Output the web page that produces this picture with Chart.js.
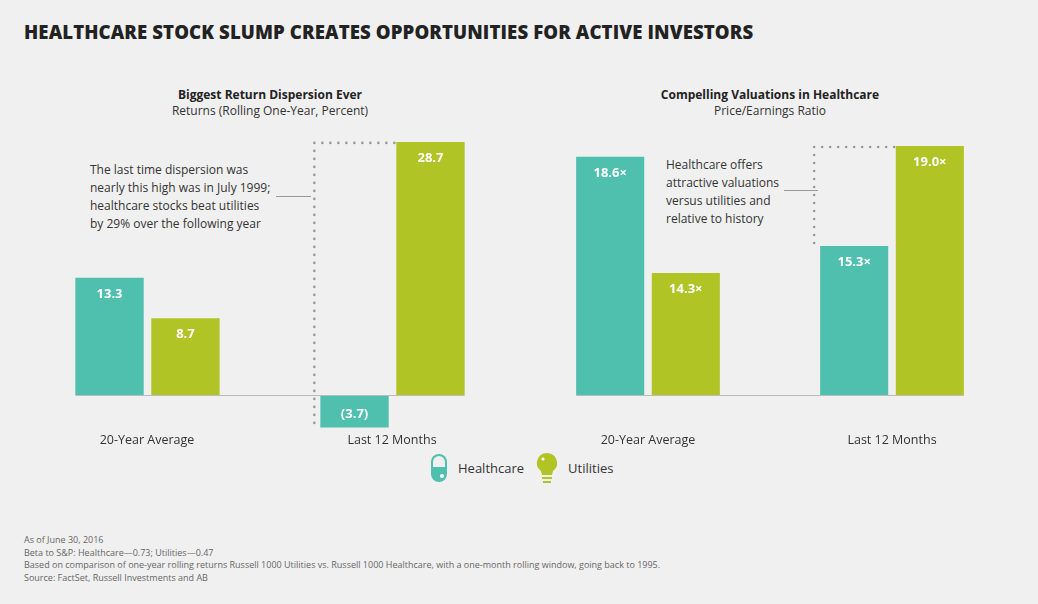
<!DOCTYPE html>
<html>
<head>
<meta charset="utf-8">
<script src="https://cdn.jsdelivr.net/npm/chart.js@4"></script>
<style>
  body { margin:0; background:#f0f0f0; font-family:"Open Sans", sans-serif; color:#333; }
  #wrap { position:relative; width:1038px; height:604px; overflow:hidden; }
  .abs { position:absolute; }
  h1 { position:absolute; left:24px; top:19px; margin:0; font-size:18.6px; font-weight:800; letter-spacing:0.1px; color:#222; }
  .st { text-align:center; font-size:12px; line-height:16px; }
  .st b { font-weight:700; color:#222; }
  .cat { font-size:12.5px; text-align:center; width:160px; }
  .note { font-size:12px; line-height:18px; color:#333; white-space:nowrap; }
  .foot { left:24px; top:534px; font-size:9px; line-height:12.5px; color:#666; }
  canvas { position:absolute; }
</style>
</head>
<body>
<div id="wrap">
  <h1>HEALTHCARE STOCK SLUMP CREATES OPPORTUNITIES FOR ACTIVE INVESTORS</h1>
  <div class="abs st" style="left:120px;top:87px;width:300px"><b>Biggest Return Dispersion Ever</b><br>Returns (Rolling One-Year, Percent)</div>
  <div class="abs st" style="left:620px;top:87px;width:300px"><b>Compelling Valuations in Healthcare</b><br>Price/Earnings Ratio</div>

  <div class="abs note" style="left:90px;top:161px">The last time dispersion was<br>nearly this high was in July 1999;<br>healthcare stocks beat utilities<br>by 29% over the following year</div>
  <div class="abs" style="left:276px;top:196px;width:35px;border-top:1px solid #999"></div>
  <div class="abs note" style="left:666px;top:156px">Healthcare offers<br>attractive valuations<br>versus utilities and<br>relative to history</div>
  <div class="abs" style="left:784px;top:190px;width:34px;border-top:1px solid #999"></div>

  <canvas id="left" width="490" height="350" style="left:25px;top:100px;width:490px;height:350px"></canvas>
  <canvas id="right" width="488" height="300" style="left:526px;top:100px;width:488px;height:300px"></canvas>

  <div class="abs cat" style="left:67px;top:431px">20-Year Average</div>
  <div class="abs cat" style="left:312px;top:431px">Last 12 Months</div>
  <div class="abs cat" style="left:568px;top:431px">20-Year Average</div>
  <div class="abs cat" style="left:812px;top:431px">Last 12 Months</div>

  <div class="abs" style="left:430px;top:452px;font-size:13px;display:flex;align-items:center">
    <svg width="18" height="30" viewBox="0 0 18 30"><rect x="1" y="1" width="16" height="28" rx="8" fill="#4fbfae"/><path d="M3 14 V9 a6 6 0 0 1 12 0 V14 Z" fill="#f0f0f0"/><circle cx="12" cy="23" r="2" fill="#fff"/></svg>
    <span style="margin:0 12px 0 10px">Healthcare</span>
    <svg width="22" height="32" viewBox="0 0 22 32"><path d="M11 1 a10 10 0 0 1 6 18 l-1 4 h-10 l-1 -4 a10 10 0 0 1 6 -18 Z" fill="#b0c425"/><rect x="6" y="25" width="10" height="2" fill="#b0c425"/><rect x="7" y="29" width="8" height="2" fill="#b0c425"/><circle cx="7" cy="7" r="1.6" fill="#fff"/></svg>
    <span style="margin-left:10px">Utilities</span>
  </div>

  <div class="abs foot">As of June 30, 2016<br>Beta to S&amp;P: Healthcare—0.73; Utilities—0.47<br>Based on comparison of one-year rolling returns Russell 1000 Utilities vs. Russell 1000 Healthcare, with a one-month rolling window, going back to 1995.<br>Source: FactSet, Russell Investments and AB</div>
</div>
<script>
var categories = ["20-Year Average", "Last 12 Months"];
var returnsHealthcare = [13.3, -3.7];
var returnsUtilities = [8.7, 28.7];
var peHealthcare = [18.6, 15.3];
var peUtilities = [14.3, 19.0];

var TEAL = "#4fbfae", GREEN = "#b0c425";

function fmtReturn(v) { return v < 0 ? "(" + Math.abs(v).toFixed(1) + ")" : v.toFixed(1); }
function fmtPE(v) { return v.toFixed(1) + "\u00d7"; }

// bar labels + baseline + dotted bracket
function makePlugin(fmt, base, bottom) {
  return {
    id: "extras",
    afterDatasetsDraw: function(chart) {
      var ctx = chart.ctx;
      var y = chart.scales.y;
      var zeroY = Math.round(y.getPixelForValue(base));
      var m0 = chart.getDatasetMeta(0).data, m1 = chart.getDatasetMeta(1).data;
      ctx.save();
      ctx.strokeStyle = "#bbb"; ctx.lineWidth = 1;
      ctx.beginPath();
      ctx.moveTo(m0[0].x - m0[0].width / 2, zeroY + 0.5);
      ctx.lineTo(m1[1].x + m1[1].width / 2, zeroY + 0.5);
      ctx.stroke();
      ctx.fillStyle = "#fff";
      ctx.font = "bold 13px 'Open Sans'";
      ctx.textAlign = "center";
      [0, 1].forEach(function(d) {
        var meta = chart.getDatasetMeta(d);
        meta.data.forEach(function(bar, i) {
          var v = chart.data.datasets[d].data[i];
          var ty = v < 0 ? bar.y - 10 : bar.y + 20;
          ctx.fillText(fmt(v), bar.x, ty);
        });
      });
      var hb = m0[1], ub = m1[1];
      var bx = hb.x - hb.width / 2 - 6;
      var by = ub.y + 1;
      ctx.fillStyle = "#999";
      for (var yy = by; yy <= bottom; yy += 8) { ctx.beginPath(); ctx.arc(bx, yy, 1.3, 0, 7); ctx.fill(); }
      for (var xx = bx + 8; xx < ub.x - ub.width / 2; xx += 8) { ctx.beginPath(); ctx.arc(xx, by, 1.3, 0, 7); ctx.fill(); }
      ctx.restore();
    }
  };
}

function makeChart(id, hc, ut, min, max, base, fmt, bottom) {
  return new Chart(document.getElementById(id), {
    type: "bar",
    data: {
      labels: categories,
      datasets: [
        { label: "Healthcare", data: hc, backgroundColor: TEAL },
        { label: "Utilities", data: ut, backgroundColor: GREEN }
      ]
    },
    options: {
      responsive: false,
      animation: false,
      layout: { padding: 0 },
      datasets: { bar: { categoryPercentage: 0.62, barPercentage: 0.9, base: base } },
      plugins: { legend: { display: false }, tooltip: { enabled: false } },
      scales: {
        x: { display: false },
        y: { display: false, min: min, max: max }
      }
    },
    plugins: [makePlugin(fmt, base, bottom)]
  });
}

makeChart("left", returnsHealthcare, returnsUtilities, -6.24, 33.45, 0, fmtReturn, 327);
makeChart("right", peHealthcare, peUtilities, 9.6, 20.7, 9.78, fmtPE, 145);
</script>
</body>
</html>
